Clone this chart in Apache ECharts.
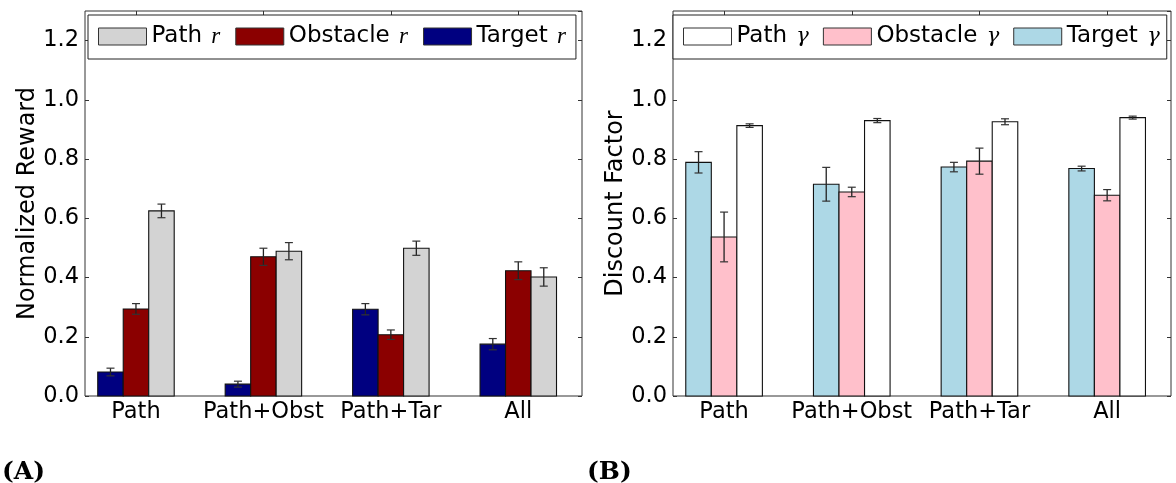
<!DOCTYPE html>
<html>
<head>
<meta charset="utf-8">
<script src="https://cdn.jsdelivr.net/npm/echarts@6/dist/echarts.min.js"></script>
<style>
  html, body { margin: 0; padding: 0; background: #fff; }
  #chart { width: 1176px; height: 483px; }
</style>
</head>
<body>
<div id="chart"></div>
<script>
// ---- data ----
const categories = ['Path', 'Path+Obst', 'Path+Tar', 'All'];
const categoryTicks = [0, 1, 2, 3];

// Panel A: normalized reward
const targetR = [0.081, 0.040, 0.293, 0.175];
const targetRErr = [0.013, 0.010, 0.019, 0.019];
const obstacleR = [0.294, 0.470, 0.207, 0.423];
const obstacleRErr = [0.018, 0.029, 0.016, 0.030];
const pathR = [0.625, 0.489, 0.499, 0.402];
const pathRErr = [0.023, 0.029, 0.024, 0.031];

// Panel B: discount factor
const targetG = [0.789, 0.715, 0.773, 0.768];
const targetGErr = [0.036, 0.057, 0.016, 0.008];
const obstacleG = [0.537, 0.689, 0.793, 0.678];
const obstacleGErr = [0.084, 0.016, 0.044, 0.019];
const pathG = [0.913, 0.930, 0.926, 0.940];
const pathGErr = [0.006, 0.007, 0.010, 0.005];

// ---- styling / layout ----
const BAR_W = 0.2;
const FONT = 'DejaVu Sans';
const TICK_FS = 22.5;

function barSeries(name, values, errors, slot, color, axisIdx) {
  return {
    type: 'custom',
    name: name,
    xAxisIndex: axisIdx * 2,
    yAxisIndex: axisIdx * 2,
    itemStyle: { color: color, borderColor: '#222', borderWidth: 1 },
    encode: { x: 0, y: 1 },
    data: values.map((v, i) => [categoryTicks[i], v, errors[i]]),
    renderItem: function (params, api) {
      const c = api.value(0), v = api.value(1), e = api.value(2);
      const xc = c + (slot - 1) * BAR_W;
      const w = api.size([BAR_W, 0])[0];
      const top = api.coord([xc, v]);
      const base = api.coord([xc, 0]);
      const lo = api.coord([xc, v - e]);
      const hi = api.coord([xc, v + e]);
      const cap = 4;
      return {
        type: 'group',
        children: [
          { type: 'rect', shape: { x: top[0] - w / 2, y: top[1], width: w, height: base[1] - top[1] },
            style: { fill: color, stroke: '#111', lineWidth: 1.1 } },
          { type: 'line', shape: { x1: top[0], y1: lo[1], x2: top[0], y2: hi[1] },
            style: { stroke: '#222', lineWidth: 1.3 } },
          { type: 'line', shape: { x1: top[0] - cap, y1: lo[1], x2: top[0] + cap, y2: lo[1] },
            style: { stroke: '#333', lineWidth: 1.2 } },
          { type: 'line', shape: { x1: top[0] - cap, y1: hi[1], x2: top[0] + cap, y2: hi[1] },
            style: { stroke: '#333', lineWidth: 1.2 } }
        ]
      };
    }
  };
}

const grids = [
  { left: 85, top: 11, width: 497, height: 385 },
  { left: 673, top: 11, width: 498, height: 385 }
];

function xAxes(gi) {
  return [
    {
      type: 'value', gridIndex: gi, position: 'bottom', min: -0.4, max: 3.5,
      axisLine: { show: false, onZero: false }, splitLine: { show: false },
      axisTick: { inside: true, length: 4, customValues: categoryTicks, lineStyle: { color: '#333' } },
      axisLabel: { customValues: categoryTicks, formatter: v => categories[Math.round(v)],
        fontFamily: FONT, fontSize: TICK_FS, color: '#000', margin: 5 }
    },
    {
      type: 'value', gridIndex: gi, position: 'top', min: -0.4, max: 3.5,
      axisLine: { show: false, onZero: false }, splitLine: { show: false },
      axisTick: { inside: true, length: 4, customValues: categoryTicks, lineStyle: { color: '#333' } },
      axisLabel: { show: false }
    }
  ];
}

function yAxes(gi, name) {
  return [
    {
      type: 'value', gridIndex: gi, position: 'left', min: 0, max: 1.3, interval: 0.2,
      name: name, nameLocation: 'middle', nameGap: 44,
      nameTextStyle: { fontFamily: FONT, fontSize: 24, color: '#000' },
      axisLine: { show: false, onZero: false }, splitLine: { show: false },
      axisTick: { inside: true, length: 4, lineStyle: { color: '#333' } },
      axisLabel: { formatter: v => v.toFixed(1), showMaxLabel: false,
        fontFamily: FONT, fontSize: TICK_FS, color: '#000', margin: 6 }
    },
    {
      type: 'value', gridIndex: gi, position: 'right', min: 0, max: 1.3, interval: 0.2,
      axisLine: { show: false, onZero: false }, splitLine: { show: false },
      axisTick: { inside: true, length: 4, lineStyle: { color: '#333' } },
      axisLabel: { show: false }
    }
  ];
}

const legendText = {
  fontFamily: FONT, fontSize: 23, color: '#000',
  rich: {
    r: { fontFamily: 'Liberation Serif', fontStyle: 'italic', fontSize: 23, color: '#000', padding: [0, 0, 0, 2] },
    g: { fontFamily: 'DejaVu Serif', fontStyle: 'italic', fontSize: 21, color: '#000', padding: [0, 0, 0, 2] }
  }
};
const legendFmt = n => n.replace(/ r$/, ' {r|r}').replace(/ γ$/, ' {g|γ}');

function legendItem(name, color) {
  return { name: name, icon: 'rect', itemStyle: { color: color, borderColor: '#333', borderWidth: 1 } };
}

const chart = echarts.init(document.getElementById('chart'), null, { renderer: 'canvas' });
chart.setOption({
  animation: false,
  backgroundColor: '#fff',
  title: [
    { text: '(A)', left: 2, top: 460, padding: 0,
      textStyle: { fontFamily: 'DejaVu Serif', fontWeight: 'bold', fontSize: 25, color: '#000' } },
    { text: '(B)', left: 587, top: 460, padding: 0,
      textStyle: { fontFamily: 'DejaVu Serif', fontWeight: 'bold', fontSize: 25, color: '#000' } }
  ],
  grid: grids.map(g => Object.assign({ show: true, borderColor: '#333', borderWidth: 1, backgroundColor: 'transparent' }, g)),
  xAxis: xAxes(0).concat(xAxes(1)),
  yAxis: yAxes(0, 'Normalized Reward').concat(yAxes(1, 'Discount Factor')),
  legend: [
    {
      left: 88, top: 15, orient: 'horizontal', itemWidth: 48, itemHeight: 17, itemGap: 15,
      padding: [10, 10, 11, 10], borderColor: '#222', borderWidth: 1, backgroundColor: '#fff',
      selectedMode: false, formatter: legendFmt, textStyle: legendText,
      data: [legendItem('Path r', '#d3d3d3'), legendItem('Obstacle r', '#8b0000'), legendItem('Target r', '#000080')]
    },
    {
      left: 673, top: 15, orient: 'horizontal', itemWidth: 48, itemHeight: 17, itemGap: 14,
      padding: [10, 7, 11, 10], borderColor: '#222', borderWidth: 1, backgroundColor: '#fff',
      selectedMode: false, formatter: legendFmt, textStyle: legendText,
      data: [legendItem('Path γ', '#ffffff'), legendItem('Obstacle γ', '#ffc0cb'), legendItem('Target γ', '#add8e6')]
    }
  ],
  series: [
    barSeries('Target r', targetR, targetRErr, 0, '#000080', 0),
    barSeries('Obstacle r', obstacleR, obstacleRErr, 1, '#8b0000', 0),
    barSeries('Path r', pathR, pathRErr, 2, '#d3d3d3', 0),
    barSeries('Target γ', targetG, targetGErr, 0, '#add8e6', 1),
    barSeries('Obstacle γ', obstacleG, obstacleGErr, 1, '#ffc0cb', 1),
    barSeries('Path γ', pathG, pathGErr, 2, '#ffffff', 1)
  ]
});
</script>
</body>
</html>
